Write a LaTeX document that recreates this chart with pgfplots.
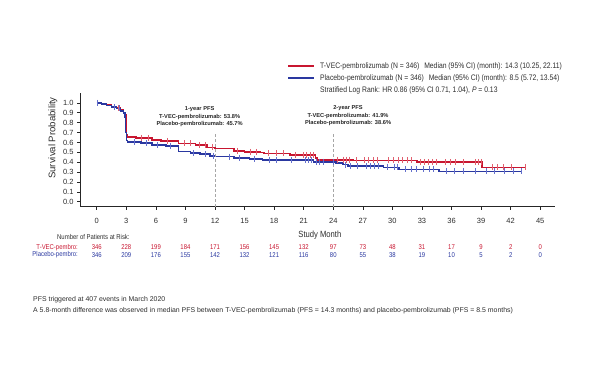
\documentclass[border=0pt]{standalone}
\usepackage{fontspec}
\setmainfont{Liberation Sans}
\newfontfamily\cond{Liberation Sans}[FakeStretch=0.85]
\usepackage{pgfplots}
\pgfplotsset{compat=1.18}
\usepackage{pgfplotstable}

\definecolor{tred}{RGB}{200,22,48}
\definecolor{pblue}{RGB}{42,56,160}
\definecolor{tredL}{RGB}{225,95,110}
\definecolor{pblueL}{RGB}{100,112,205}
\definecolor{txtgray}{RGB}{45,45,45}

\pgfplotstableread{
t s
0 1.0
0.5 0.99
1.0 0.98
1.5 0.965
2.0 0.95
2.4 0.93
2.7 0.90
2.85 0.88
2.95 0.75
3.0 0.68
3.1 0.655
4.0 0.645
5.6 0.625
6.5 0.615
8.3 0.59
10.0 0.575
11.2 0.55
12.0 0.538
13.9 0.515
15.0 0.505
16.6 0.50
17.0 0.49
19.6 0.475
22.2 0.445
22.4 0.425
26.0 0.418
32.5 0.402
39.1 0.347
43.5 0.347
}\tvec

\pgfplotstableread{
t s
0 1.0
0.5 0.99
1.0 0.975
1.5 0.96
2.0 0.945
2.4 0.92
2.7 0.895
2.85 0.86
2.9 0.70
3.0 0.62
3.1 0.605
4.5 0.595
5.6 0.575
7.0 0.565
8.3 0.51
9.5 0.495
10.5 0.48
11.5 0.465
12.0 0.457
13.9 0.445
15.5 0.435
16.8 0.425
19.0 0.42
22.0 0.405
24.3 0.39
25.0 0.375
25.5 0.36
29.1 0.348
30.7 0.328
34.7 0.308
43.1 0.308
}\plac

\pgfplotstableread{
t s
0.05 1.0
2.2 0.95
4.5 0.645
5.2 0.645
7.2 0.615
8.9 0.59
9.5 0.59
10.4 0.575
11.0 0.575
11.7 0.55
14.3 0.515
15.6 0.505
16.2 0.505
17.4 0.49
18.2 0.49
18.9 0.49
20.2 0.475
21.0 0.475
21.3 0.475
21.7 0.475
22.0 0.475
24.4 0.425
25.0 0.425
25.3 0.425
25.6 0.425
26.4 0.418
27.2 0.418
27.6 0.418
28.1 0.418
28.5 0.418
29.6 0.418
30.1 0.418
30.6 0.418
31.0 0.418
31.5 0.418
31.9 0.418
32.8 0.402
33.3 0.402
33.7 0.402
34.1 0.402
34.5 0.402
35.4 0.402
35.9 0.402
36.4 0.402
37.2 0.402
38.4 0.402
38.7 0.402
39.0 0.402
40.2 0.347
40.7 0.347
41.3 0.347
42.1 0.347
43.5 0.347
}\tveccens

\pgfplotstableread{
t s
0.05 1.0
1.8 0.96
2.3 0.945
3.8 0.605
5.0 0.595
6.2 0.575
7.5 0.565
9.8 0.495
11.0 0.48
11.8 0.465
13.5 0.457
14.5 0.445
16.0 0.435
17.5 0.425
18.2 0.425
19.8 0.42
21.2 0.42
21.5 0.42
21.8 0.42
22.3 0.405
22.6 0.405
23.0 0.405
24.0 0.405
25.2 0.375
25.7 0.36
26.5 0.36
27.4 0.36
27.8 0.36
28.2 0.36
28.6 0.36
29.5 0.348
30.2 0.348
30.5 0.348
31.3 0.328
31.9 0.328
32.4 0.328
33.2 0.328
33.8 0.328
34.2 0.328
35.5 0.308
36.3 0.308
37.2 0.308
38.4 0.308
39.5 0.308
40.4 0.308
41.4 0.308
42.3 0.308
43.1 0.308
}\placcens

\pgfplotstableread{
m a b
0 346 346
3 228 209
6 199 176
9 184 155
12 171 142
15 156 132
18 145 121
21 132 116
24 97 80
27 73 55
30 48 38
33 31 19
36 17 10
39 9 5
42 2 2
45 0 0
}\atrisk

\begin{document}
\begin{tikzpicture}
\path[use as bounding box] (0pt,0pt) rectangle (600pt,365pt);
\begin{axis}[
  at={(80pt,158.3pt)}, anchor=south west,
  scale only axis, width=475pt, height=113.7pt,
  xmin=-1.7, xmax=46.5, ymin=-0.05, ymax=1.1,
  axis x line=bottom, axis y line=left,
  axis line style={-, black!85, line width=0.8pt},
  xtick={0,3,...,45},
  ytick={0,0.1,...,1.0},
  yticklabel style={/pgf/number format/.cd, fixed, fixed zerofill, precision=1},
  /pgf/number format/assume math mode=true,
  tick align=outside, major tick length=3pt,
  tick style={black!85, line width=0.6pt},
  ticklabel style={font=\fontsize{7.5}{8}\selectfont, text=txtgray},
  xticklabel style={yshift=-5pt},
  xlabel={Study Month}, ylabel={Survival Probability},
  every axis x label/.style={at={(axis description cs:0.505,-0.249)}, anchor=center, font=\cond\fontsize{9}{10}\selectfont, text=txtgray},
  every axis y label/.style={at={(axis description cs:-0.057,0.604)}, rotate=90, anchor=center, font=\fontsize{9.6}{11}\selectfont, text=txtgray},
  clip=false,
]
\addplot[const plot, tred, line width=1.6pt] table[x=t,y=s] {\tvec};
\addplot[const plot, pblue, line width=1.6pt] table[x=t,y=s] {\plac};

\addplot[only marks, mark=|, mark size=3pt, mark options={tredL, line width=0.9pt}] table[x=t,y=s] {\tveccens};
\addplot[only marks, mark=|, mark size=3pt, mark options={pblueL, line width=0.9pt}] table[x=t,y=s] {\placcens};

\addplot[gray!70, dash pattern=on 3pt off 2pt, line width=0.6pt] coordinates {(12,-0.05) (12,0.70)};
\addplot[gray!70, dash pattern=on 3pt off 2pt, line width=0.6pt] coordinates {(24,-0.05) (24,0.69)};

\node[font=\fontsize{5.7}{7}\selectfont\bfseries, text=black!85] at (axis cs:10.44,0.938) {1-year PFS};
\node[font=\fontsize{5.7}{7}\selectfont\bfseries, text=black!85] at (axis cs:10.44,0.860) {T-VEC-pembrolizumab: 53.8\%};
\node[font=\fontsize{5.7}{7}\selectfont\bfseries, text=black!85] at (axis cs:10.44,0.783) {Placebo-pembrolizumab: 45.7\%};
\node[font=\fontsize{5.7}{7}\selectfont\bfseries, text=black!85] at (axis cs:25.5,0.945) {2-year PFS};
\node[font=\fontsize{5.7}{7}\selectfont\bfseries, text=black!85] at (axis cs:25.5,0.870) {T-VEC-pembrolizumab: 41.9\%};
\node[font=\fontsize{5.7}{7}\selectfont\bfseries, text=black!85] at (axis cs:25.5,0.794) {Placebo-pembrolizumab: 38.6\%};

\addplot[draw=none, mark=none, nodes near coords, point meta=explicit symbolic,
  every node near coord/.append style={anchor=center, font=\cond\fontsize{7}{8}\selectfont, text=tred}]
  table[x=m, y expr=-0.461, meta=a] {\atrisk};
\addplot[draw=none, mark=none, nodes near coords, point meta=explicit symbolic,
  every node near coord/.append style={anchor=center, font=\cond\fontsize{7}{8}\selectfont, text=pblue}]
  table[x=m, y expr=-0.538, meta=b] {\atrisk};
\end{axis}

% legend
\draw[tred, line width=1.8pt] (288pt,299pt) -- (314pt,299pt);
\draw[pblue, line width=1.8pt] (288pt,287pt) -- (314pt,287pt);
\node[anchor=west, font=\cond\fontsize{8}{9}\selectfont, text=txtgray, inner sep=0pt] at (320pt,299pt) {T-VEC-pembrolizumab (N = 346)\hspace{3pt} Median (95\% CI) (month): 14.3 (10.25, 22.11)};
\node[anchor=west, font=\cond\fontsize{8}{9}\selectfont, text=txtgray, inner sep=0pt] at (320pt,287pt) {Placebo-pembrolizumab (N = 346)\hspace{3pt} Median (95\% CI) (month): 8.5 (5.72, 13.54)};
\node[anchor=west, font=\cond\fontsize{8}{9}\selectfont, text=txtgray, inner sep=0pt] at (320pt,275pt) {Stratified Log Rank: HR 0.86 (95\% CI 0.71, 1.04), \textit{P} = 0.13};

\node[anchor=west, font=\cond\fontsize{7}{8}\selectfont, text=txtgray, inner sep=0pt] at (57pt,128.3pt) {Number of Patients at Risk:};
\node[anchor=east, font=\cond\fontsize{7}{8}\selectfont, text=tred, inner sep=0pt] at (78pt,117.7pt) {T-VEC-pembro:};
\node[anchor=east, font=\cond\fontsize{7}{8}\selectfont, text=pblue, inner sep=0pt] at (78pt,110pt) {Placebo-pembro:};
\node[anchor=west, font=\fontsize{6.93}{9}\selectfont, text=txtgray, inner sep=0pt] at (33pt,65pt) {PFS triggered at 407 events in March 2020};
\node[anchor=west, font=\fontsize{6.93}{9}\selectfont, text=txtgray, inner sep=0pt] at (33pt,54pt) {A 5.8-month difference was observed in median PFS between T-VEC-pembrolizumab (PFS = 14.3 months) and placebo-pembrolizumab (PFS = 8.5 months)};
\end{tikzpicture}
\end{document}
